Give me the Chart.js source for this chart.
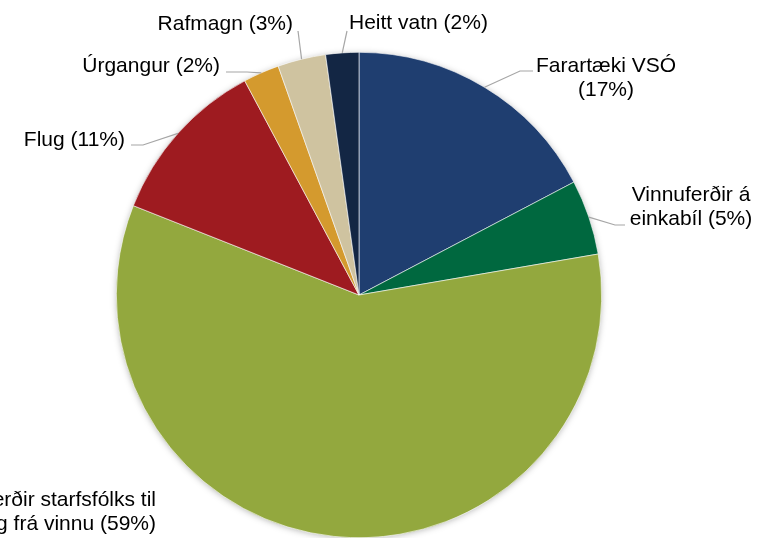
<!DOCTYPE html>
<html>
<head>
<meta charset="utf-8">
<script src="https://cdn.jsdelivr.net/npm/chart.js@4"></script>
<style>
    html, body { margin: 0; padding: 0; background: #FFFFFF; }
    #wrap { width: 765px; height: 538px; position: relative; }
</style>
</head>
<body>
<div id="wrap"><canvas id="pieChart"></canvas></div>
<script>
// Chart data
const categories = ['Farartæki VSÓ', 'Vinnuferðir á einkabíl', 'Ferðir starfsfólks til og frá vinnu', 'Flug', 'Úrgangur', 'Rafmagn', 'Heitt vatn'];
const shares = [17.3, 5.0, 58.7, 11.2, 2.4, 3.2, 2.2];
const sliceColors = ['#1F3E70', '#00683F', '#93A83E', '#9E1B20', '#D49A2E', '#CFC3A0', '#132644'];

// Label placement (text anchor, wrap width, leader elbow / end)
const labelLayout = [
    { x: 606, y: 72, align: 'center', wrap: 160, elbow: [520, 71], end: [533, 71] },
    { x: 691, y: 201, align: 'center', wrap: 135, elbow: [615, 225], end: [625, 225] },
    { x: 156, y: 506, align: 'right', wrap: 190, elbow: null, end: null },
    { x: 125, y: 146, align: 'right', wrap: 300, elbow: [143, 145], end: [131, 145] },
    { x: 220, y: 72, align: 'right', wrap: 300, elbow: [247, 72], end: [226, 72] },
    { x: 293, y: 30, align: 'right', wrap: 300, elbow: null, end: [298, 31] },
    { x: 349, y: 29, align: 'left', wrap: 300, elbow: null, end: [347, 31] }
];

const FONT = '21px "Liberation Sans", Arial, sans-serif';
const LINE_HEIGHT = 24;

function wrapText(ctx, text, maxWidth) {
    const words = text.split(' ');
    const lines = [];
    let current = '';
    words.forEach(word => {
        const test = current ? current + ' ' + word : word;
        if (current && ctx.measureText(test).width > maxWidth) {
            lines.push(current);
            current = word;
        } else {
            current = test;
        }
    });
    if (current) lines.push(current);
    return lines;
}

// Soft shadow behind the pie
const pieShadow = {
    id: 'pieShadow',
    beforeDatasetsDraw(chart) {
        const arc = chart.getDatasetMeta(0).data[0];
        if (!arc) return;
        const ctx = chart.ctx;
        ctx.save();
        ctx.shadowColor = 'rgba(0, 0, 0, 0.35)';
        ctx.shadowBlur = 7;
        ctx.shadowOffsetX = 0;
        ctx.shadowOffsetY = 1;
        ctx.fillStyle = '#AAAAAA';
        ctx.beginPath();
        ctx.arc(arc.x, arc.y, arc.outerRadius - 1, 0, Math.PI * 2);
        ctx.fill();
        ctx.restore();
    }
};

// Outside labels with leader lines
const outsideLabels = {
    id: 'outsideLabels',
    afterDatasetsDraw(chart) {
        const ctx = chart.ctx;
        const meta = chart.getDatasetMeta(0);
        const total = shares.reduce((a, b) => a + b, 0);
        ctx.save();
        ctx.font = FONT;
        meta.data.forEach((arc, i) => {
            const layout = labelLayout[i];
            const pct = Math.round(shares[i] / total * 100);
            const text = categories[i] + ' (' + pct + '%)';

            // leader line from slice edge
            if (layout.end) {
                const mid = (arc.startAngle + arc.endAngle) / 2;
                const sx = arc.x + Math.cos(mid) * arc.outerRadius;
                const sy = arc.y + Math.sin(mid) * arc.outerRadius;
                ctx.strokeStyle = '#A6A6A6';
                ctx.lineWidth = 1.2;
                ctx.beginPath();
                ctx.moveTo(sx, sy);
                if (layout.elbow) ctx.lineTo(layout.elbow[0], layout.elbow[1]);
                ctx.lineTo(layout.end[0], layout.end[1]);
                ctx.stroke();
            }

            ctx.fillStyle = '#000000';
            ctx.textAlign = layout.align;
            ctx.textBaseline = 'alphabetic';
            const lines = wrapText(ctx, text, layout.wrap);
            lines.forEach((line, j) => {
                ctx.fillText(line, layout.x, layout.y + j * LINE_HEIGHT);
            });
        });
        ctx.restore();
    }
};

function renderPieChart() {
    const ctx = document.getElementById('pieChart');
    new Chart(ctx, {
        type: 'pie',
        data: {
            labels: categories,
            datasets: [{
                data: shares,
                backgroundColor: sliceColors,
                borderColor: '#FFFFFF',
                borderWidth: 0.6
            }]
        },
        options: {
            responsive: true,
            maintainAspectRatio: false,
            animation: false,
            layout: {
                padding: { left: 116, right: 163, top: 52, bottom: 0 }
            },
            plugins: {
                legend: { display: false },
                tooltip: { enabled: false }
            }
        },
        plugins: [pieShadow, outsideLabels]
    });
}

document.addEventListener('DOMContentLoaded', renderPieChart);
</script>
</body>
</html>
